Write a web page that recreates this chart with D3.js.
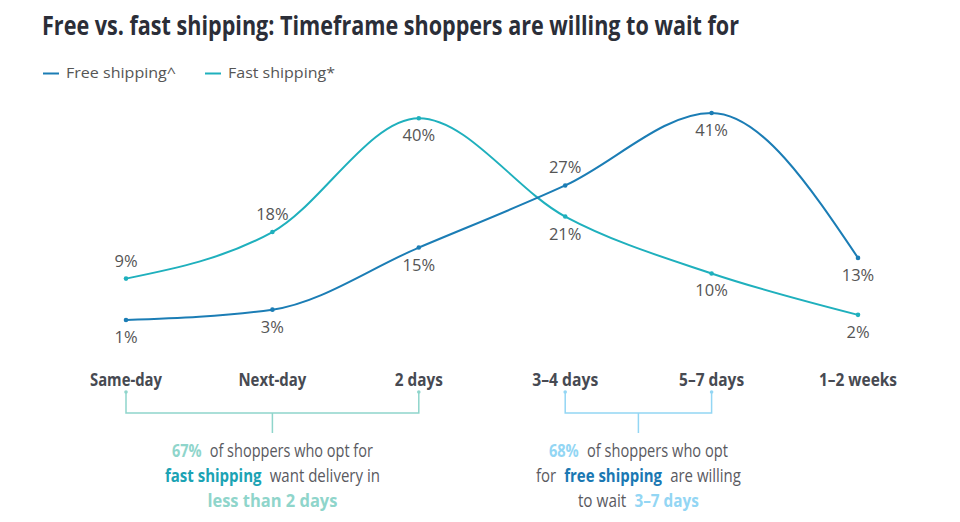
<!DOCTYPE html>
<html><head><meta charset="utf-8">
<script src="https://cdn.jsdelivr.net/npm/d3@7"></script>
<style>
body{margin:0;background:#fff;}
text{font-family:"Open Sans",sans-serif;}
</style></head>
<body><svg id="c" width="960" height="522"></svg>
<script>
const categories = ["Same-day","Next-day","2 days","3–4 days","5–7 days","1–2 weeks"];
const freeShipping = [1,3,15,27,41,13];
const fastShipping = [9,18,40,21,10,2];
const freeLabelPos = ["below","below","below","above","below","below"];
const fastLabelPos = ["above","above","below","below","below","below"];
const seriesNames = ["Free shipping^","Fast shipping*"];

const FREE = "#1b7db5", FAST = "#1fb0bd";
const svg = d3.select("#c");

const x = d3.scalePoint().domain(categories).range([126, 858]);
const y = d3.scaleLinear().domain([0, 41]).range([325.2, 113]);

// title
svg.append("text").attr("x",42).attr("y",35)
  .attr("font-size",27).attr("font-weight",700).attr("fill","#2b2e38")
  .attr("textLength",697).attr("lengthAdjust","spacingAndGlyphs")
  .text("Free vs. fast shipping: Timeframe shoppers are willing to wait for");

// legend
const leg = [{name:seriesNames[0],c:FREE,x:43,w:110},{name:seriesNames[1],c:FAST,x:205,w:107}];
leg.forEach(l=>{
  svg.append("line").attr("x1",l.x).attr("x2",l.x+16).attr("y1",73.5).attr("y2",73.5)
    .attr("stroke",l.c).attr("stroke-width",2);
  svg.append("text").attr("x",l.x+23).attr("y",78).attr("font-size",15).attr("fill","#555")
    .attr("textLength",l.w).attr("lengthAdjust","spacingAndGlyphs").text(l.name);
});

const line = d3.line().x((d,i)=>x(categories[i])).y(d=>y(d)).curve(d3.curveMonotoneX);

function drawSeries(vals, color, pos){
  svg.append("path").datum(vals).attr("d",line).attr("fill","none")
    .attr("stroke",color).attr("stroke-width",2);
  svg.selectAll(null).data(vals).enter().append("circle")
    .attr("cx",(d,i)=>x(categories[i])).attr("cy",d=>y(d)).attr("r",2.3).attr("fill",color);
  svg.selectAll(null).data(vals).enter().append("text")
    .attr("x",(d,i)=>x(categories[i]))
    .attr("y",(d,i)=>pos[i]==="above"? y(d)-12 : y(d)+23)
    .attr("text-anchor","middle").attr("font-size",16.5).attr("fill","#555")
    .text(d=>d+"%");
}
drawSeries(fastShipping, FAST, fastLabelPos);
drawSeries(freeShipping, FREE, freeLabelPos);

// category labels
const catW = [72,68,48,66,65,78];
svg.selectAll(null).data(categories).enter().append("text")
  .attr("x",d=>x(d)).attr("y",386).attr("text-anchor","middle")
  .attr("font-size",17).attr("font-weight",700).attr("fill","#474a52")
  .attr("textLength",(d,i)=>catW[i]).attr("lengthAdjust","spacingAndGlyphs")
  .text(d=>d);

// brackets
function bracket(a,b,color){
  const xa=x(categories[a]), xb=x(categories[b]), xm=(xa+xb)/2;
  const g=svg.append("g").attr("stroke",color).attr("stroke-width",1.5).attr("fill","none");
  g.append("path").attr("d",`M${xa},392V413H${xb}V392M${xm},413V433`);
  [xa,xb].forEach(v=>svg.append("circle").attr("cx",v).attr("cy",392).attr("r",1.8).attr("fill",color));
  return xm;
}
const FASTL="#8fd5cb", FREEL="#93d6f4";
const m1 = bracket(0,2,FASTL);
const m2 = bracket(3,4,FREEL);

const FS = 17.5;
function para(cx, lines){
  const tmp = svg.append("text").attr("font-size",FS).text("a a");
  const tmp2 = svg.append("text").attr("font-size",FS).text("aa");
  const sp = (tmp.node().getComputedTextLength()-tmp2.node().getComputedTextLength())*1.8;
  tmp.remove(); tmp2.remove();
  lines.forEach((ln,i)=>{
    const yy=457+i*25;
    const els = ln.parts.map(p=>svg.append("text").attr("y",yy).attr("font-size",FS)
      .attr("font-weight",p.b?700:400).attr("fill",p.c||"#5a5a5f").text(p.t));
    const nat = els.map(e=>e.node().getComputedTextLength());
    const gaps = sp*(els.length-1);
    const s = (ln.w-gaps)/d3.sum(nat);
    let cur = cx - ln.w/2;
    els.forEach((e,k)=>{
      const w = nat[k]*s;
      e.attr("x",cur).attr("textLength",w).attr("lengthAdjust","spacingAndGlyphs");
      cur += w + sp;
    });
  });
}
para(m1,[
  {w:201,parts:[{t:"67%",b:1,c:FASTL},{t:"of shoppers who opt for"}]},
  {w:215,parts:[{t:"fast shipping",b:1,c:"#1ba3b4"},{t:"want delivery in"}]},
  {w:130,parts:[{t:"less than 2 days",b:1,c:FASTL}]}
]);
para(m2,[
  {w:179,parts:[{t:"68%",b:1,c:FREEL},{t:"of shoppers who opt"}]},
  {w:205,parts:[{t:"for"},{t:"free shipping",b:1,c:"#1a78b3"},{t:"are willing"}]},
  {w:121,parts:[{t:"to wait"},{t:"3–7 days",b:1,c:FREEL}]}
]);
</script></body></html>
